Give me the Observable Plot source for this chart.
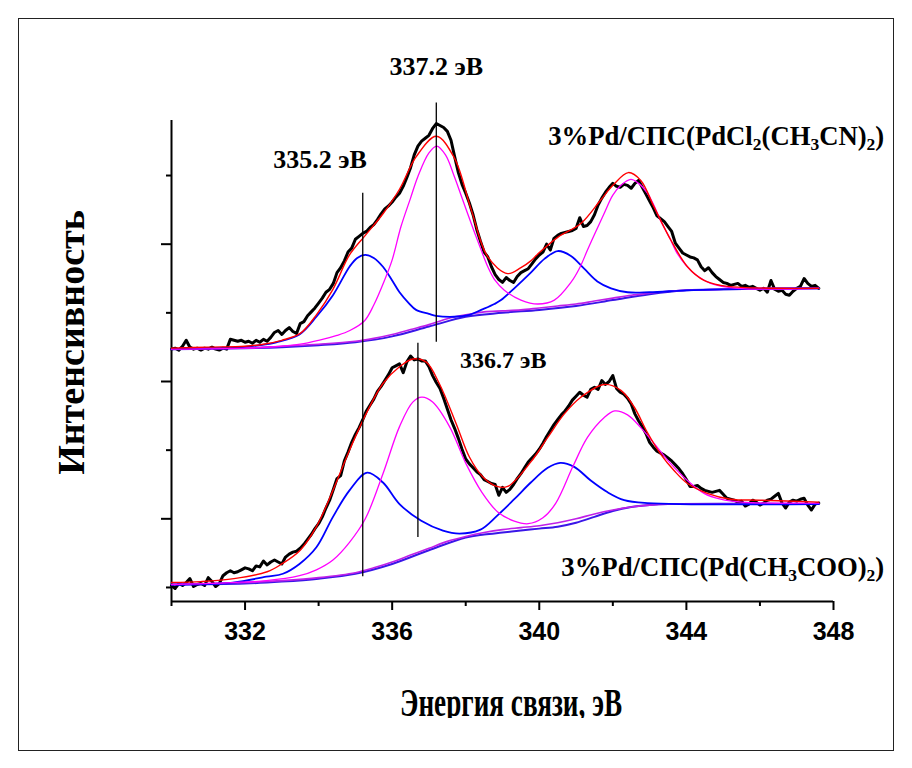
<!DOCTYPE html>
<html>
<head>
<meta charset="utf-8">
<script src="https://cdn.jsdelivr.net/npm/d3@7"></script>
<script src="https://cdn.jsdelivr.net/npm/@observablehq/plot@0.6"></script>
<style>
  html, body { margin: 0; padding: 0; background: #fff; }
  #page { position: relative; width: 912px; height: 768px; overflow: hidden; background: #fff; }
  #border { position: absolute; left: 18px; top: 18px; width: 876px; height: 733px;
            border: 1.5px solid #222; box-sizing: border-box; pointer-events: none; }
  #chart { position: absolute; left: 0; top: 0; }
  #xtitle { position: absolute; left: 0; top: 680px; width: 912px; height: 38px; overflow: hidden; }
  #xtitle span { position: absolute; left: 511px; top: 2.5px; white-space: nowrap;
                 font: bold 40px/40px "Liberation Serif", "Times New Roman", serif; color: #000;
                 transform-origin: center; transform: translateX(-50%) scaleX(0.68); }
</style>
</head>
<body>
<div id="page">
  <div id="chart"></div>
  <div id="xtitle"><span id="xtitle-text"></span></div>
  <div id="border"></div>
</div>
<script>
// Pd 3d XPS spectra of two 3%Pd/СПС catalysts with their peak decomposition.

// Measured counts on a uniform 0.1 eV energy grid starting at 330.0 eV.
const energyStart = 330.0;
const energyStep = 0.1;

// 3%Pd/СПС(PdCl2(CH3CN)2)
const topCounts = [
  243,244,242,246,252,245,243,244,242,244,
  243,245,243,242,244,243,253,252,251,252,
  250,251,249,252,250,253,251,255,260,262,
  258,262,265,261,259,269,271,277,281,285,
  290,295,301,304,310,321,326,333,342,346,
  355,358,361,363,367,370,375,381,386,389,
  393,398,402,409,418,428,441,450,455,458,
  461,468,473,471,469,465,456,439,423,411,
  402,392,380,365,353,342,337,327,319,314,
  311,316,313,311,317,321,323,325,330,335,
  339,342,350,344,356,359,361,362,363,364,
  366,377,368,369,373,380,390,397,403,408,
  412,409,408,411,410,407,412,415,408,401,
  394,387,379,376,373,368,363,351,346,341,
  339,337,336,334,327,323,326,321,317,314,
  311,310,308,309,310,307,308,306,307,305,
  303,305,301,313,304,302,303,299,298,302,
  305,307,315,310,307,308,305
];

// 3%Pd/СПС(Pd(CH3COO)2)
const bottomCounts = [
  2,-1,4,2,5,9,1,3,4,2,
  10,6,1,4,12,15,17,15,16,18,
  20,19,17,22,21,27,23,26,28,26,
  24,31,34,36,37,40,44,49,54,60,
  65,72,81,89,100,111,114,129,138,148,
  156,163,171,180,186,192,200,205,211,217,
  224,226,228,219,230,236,232,233,231,231,
  225,216,209,203,193,182,171,162,152,141,
  131,126,122,118,115,110,108,106,105,94,
  102,97,100,105,111,116,122,128,132,136,
  141,147,154,160,166,171,176,180,185,191,
  195,199,196,194,202,204,202,211,207,210,
  216,203,199,197,193,187,177,170,164,157,
  148,143,139,137,135,132,129,125,121,116,
  110,103,103,104,101,99,98,97,98,99,
  95,91,90,89,87,88,83,85,89,87,
  84,86,89,90,93,96,86,81,87,89,
  88,90,91,84,79,85,86
];

// Fitted curves, [binding energy (eV), intensity]
const fitTop = [[330,244],[331,245],[332,246],[332.5,248],[333,252],[333.5,259],[333.94,278],[334.39,304],[334.84,339],[335.27,359],[335.75,381],[336.2,406],[336.65,439],[337.2,460],[337.69,438],[338.15,385],[338.6,337],[339.14,320],[339.5,326],[339.77,333],[339.96,340],[340.5,357],[341.13,371],[341.67,395],[342,410],[342.42,423],[342.76,415],[343.12,388],[343.58,354],[344.03,327],[344.48,313],[344.93,308],[345.5,306],[346.5,305],[347.6,305]];
const pd0Top = [[330,243],[331,244],[331.6,244],[332.4,247],[332.85,250],[333.48,258],[333.94,276],[334.39,298],[334.84,327],[335.05,336],[335.27,339],[335.5,336],[335.75,327],[336,313],[336.2,301],[336.45,290],[336.65,283],[337,279],[337.19,277],[337.69,276],[338.1,278],[338.42,283],[338.78,289],[338.96,293],[339.32,305],[339.77,321],[340.14,335],[340.5,343],[340.86,338],[341.22,325],[341.58,312],[341.95,305],[342.4,301],[343,301],[344,303],[345,304],[347.6,305]];
const pd2Top = [[330,243],[332,244],[333,246],[333.5,248],[334,252],[334.5,257],[334.85,262],[335.25,272],[335.5,288],[335.79,313],[336,334],[336.24,368],[336.5,397],[336.7,419],[337,443],[337.21,450],[337.45,441],[337.69,419],[337.9,397],[338.15,371],[338.4,346],[338.6,327],[338.8,313],[339.05,303],[339.5,293],[339.96,289],[340.41,293],[340.86,311],[341.1,326],[341.31,344],[341.55,364],[341.76,381],[342,400],[342.22,410],[342.49,416],[342.7,412],[342.94,402],[343.1,391],[343.3,374],[343.55,356],[343.76,340],[344,328],[344.21,320],[344.66,310],[345.38,305],[347.6,305]];
const bgTopPd0 = [[330,243],[332,244],[333,245],[334,247],[335,250],[336,256],[337,266],[338,276],[339,280],[340,283],[341,287],[342,293],[343,299],[344,303],[345,304],[347.6,305]];
const bgTopPd2 = [[330,243],[331,244],[332,244],[333,246],[334,248],[335,251],[335.5,254],[336,258],[336.5,263],[337,268],[337.5,274],[338,278],[338.5,281],[339,282],[339.5,283],[340,285],[340.5,287],[341,289],[341.5,292],[342,295],[342.5,298],[343,300],[343.5,302],[344,303],[345,304],[346,305],[347.6,305]];

const fitBottom = [[330,5],[330.8,6],[331.7,9],[332.6,16],[333,24],[333.5,38],[333.94,62],[334.39,99],[334.84,140],[335.29,177],[335.75,208],[336.2,225],[336.56,233],[336.92,230],[337.28,208],[337.74,167],[338.1,133],[338.46,113],[338.85,103],[339.14,103],[339.77,128],[340.23,153],[340.68,177],[341.13,194],[341.77,207],[342.22,201],[342.58,184],[342.94,158],[343.3,136],[343.67,119],[344.03,106],[344.57,96],[345.2,90],[346,89],[347.6,87]];
const pd0Bottom = [[330,3],[331.67,5],[332.58,11],[333.03,14],[333.48,24],[333.94,41],[334.39,72],[334.84,99],[335.32,117],[335.75,107],[336.2,85],[336.79,68],[337.38,58],[337.83,55],[338.4,59],[338.85,73],[339.32,90],[339.77,107],[340.23,122],[340.57,127],[340.95,123],[341.4,109],[341.86,97],[342.31,89],[342.94,86],[347.6,85]];
const pd2Bottom = [[330,3],[332.58,7],[333.48,12],[333.94,18],[334.39,28],[334.84,46],[335.27,70],[335.75,116],[336.2,164],[336.56,189],[336.81,194],[337.1,189],[337.56,164],[338.01,126],[338.44,97],[338.87,77],[339.3,68],[339.7,65],[340.1,71],[340.45,86],[340.91,123],[341.31,153],[341.76,173],[342.05,180],[342.4,176],[342.76,163],[343.12,147],[343.58,126],[344.03,109],[344.48,96],[344.93,90],[345.5,87],[347.6,86]];
const bgBottomPd0 = [[330,3],[332,4],[333,6],[334,9],[335,14],[336,24],[337,38],[338,51],[338.5,54],[339,56],[339.5,58],[340,60],[340.5,62],[341,66],[341.5,72],[342,78],[342.5,82],[343,84],[343.5,85],[347.6,85]];
const bgBottomPd2 = [[330,3],[331,4],[332,5],[333,7],[334,10],[335,15],[335.5,20],[336,26],[336.5,33],[337,40],[337.5,47],[338,52],[338.5,56],[339,59],[339.5,61],[340,63],[340.5,66],[341,70],[341.5,75],[342,79],[342.5,82],[343,84],[343.5,85],[344.5,85],[347.6,85]];

// Peak positions marked on the spectra
const peakEnergies = [335.2, 337.2, 336.7];
const peakLabels = ["335.2 эВ", "337.2 эВ", "336.7 эВ"];
const sampleLabels = ["3%Pd/СПС(PdCl₂(CH₃CN)₂)", "3%Pd/СПС(Pd(CH₃COO)₂)"];

// Axis ticks
const xMajorTicks = [332, 336, 340, 344, 348];
const xMinorTicks = [330, 334, 338, 342, 346];
const yMajorTicks = [70, 210, 350];
const yMinorTicks = [0, 140, 280, 420];

const xTitle = "Энергия связи, эВ";
const yTitle = "Интенсивность";

const toSeries = (counts) => counts.map((c, i) => ({energy: +(energyStart + i * energyStep).toFixed(1), counts: c}));
const topSpectrum = toSeries(topCounts);
const bottomSpectrum = toSeries(bottomCounts);

const serif = "'Liberation Serif', 'Times New Roman', Times, serif";
const narrow = "'Liberation Sans Narrow', 'Arial Narrow', 'Liberation Sans', Arial, sans-serif";
const yDomain = [-14.3, 476.1];
const ex = d => d[0], ey = d => d[1];

const smooth = (data, stroke, strokeWidth) =>
  Plot.line(data, {x: ex, y: ey, stroke, strokeWidth, curve: "catmull-rom"});

const chart = Plot.plot({
  width: 912,
  height: 768,
  marginLeft: 171,
  marginRight: 79,
  marginTop: 120,
  marginBottom: 167,
  style: {background: "transparent", overflow: "visible", color: "#000"},
  x: {domain: [330, 348], label: null},
  y: {domain: yDomain, label: null},
  marks: [
    // axes
    Plot.axisX({ticks: xMinorTicks, tickSize: 5, strokeWidth: 2, fill: "none", label: null}),
    Plot.axisX({ticks: xMajorTicks, tickSize: 9, tickPadding: 12, strokeWidth: 2, label: null,
                fontSize: 25, fontWeight: "bold", fontFamily: narrow, tickFormat: d => String(d)}),
    Plot.axisY({ticks: yMinorTicks, tickSize: 5, strokeWidth: 2, fill: "none", label: null}),
    Plot.axisY({ticks: yMajorTicks, tickSize: 10, strokeWidth: 2, fill: "none", label: null}),
    Plot.ruleY([yDomain[0]], {strokeWidth: 2}),
    Plot.ruleX([330], {strokeWidth: 2}),

    // measured spectra
    Plot.line(topSpectrum, {x: "energy", y: "counts", stroke: "#000", strokeWidth: 3, strokeLinejoin: "round"}),
    Plot.line(bottomSpectrum, {x: "energy", y: "counts", stroke: "#000", strokeWidth: 3, strokeLinejoin: "round"}),

    // backgrounds
    smooth(bgTopPd0, "#3a16e8", 2),
    smooth(bgTopPd2, "#c020e8", 1.6),
    smooth(bgBottomPd0, "#3a16e8", 2),
    smooth(bgBottomPd2, "#c020e8", 1.6),

    // components: Pd0 (blue) and Pd2+ (magenta)
    smooth(pd0Top, "#0000ff", 1.8),
    smooth(pd2Top, "#ff00ff", 1.3),
    smooth(pd0Bottom, "#0000ff", 1.8),
    smooth(pd2Bottom, "#ff00ff", 1.3),

    // envelopes
    smooth(fitTop, "#ff0000", 1.4),
    smooth(fitBottom, "#ff0000", 1.4),

    // peak markers
    Plot.ruleX([peakEnergies[0]], {y1: 11, y2: 402, stroke: "#000", strokeWidth: 1.3}),
    Plot.ruleX([peakEnergies[1]], {y1: 250, y2: 494, stroke: "#000", strokeWidth: 1.3}),
    Plot.ruleX([peakEnergies[2]], {y1: 51, y2: 249, stroke: "#000", strokeWidth: 1.3}),

    // peak labels
    Plot.text([peakLabels[0]], {x: 334.04, y: 428, text: d => d, textAnchor: "middle", lineAnchor: "bottom",
      fontFamily: serif, fontWeight: "bold", fontSize: 26, fill: "#000"}),
    Plot.text([peakLabels[1]], {x: peakEnergies[1], y: 522, text: d => d, textAnchor: "middle", lineAnchor: "bottom",
      fontFamily: serif, fontWeight: "bold", fontSize: 26, fill: "#000"}),
    Plot.text([peakLabels[2]], {x: 339.02, y: 224, text: d => d, textAnchor: "middle", lineAnchor: "bottom",
      fontFamily: serif, fontWeight: "bold", fontSize: 24, fill: "#000"}),

    // sample names
    Plot.text([sampleLabels[0]], {x: 349.38, y: 451, text: d => d, textAnchor: "end", lineAnchor: "bottom",
      fontFamily: serif, fontWeight: "bold", fontSize: 26.7, fill: "#000"}),
    Plot.text([sampleLabels[1]], {x: 349.38, y: 12, text: d => d, textAnchor: "end", lineAnchor: "bottom",
      fontFamily: serif, fontWeight: "bold", fontSize: 26.7, fill: "#000"}),

    // y axis title
    Plot.text([yTitle], {frameAnchor: "left", dx: -88, dy: -18.5, rotate: -90, text: d => d,
      textAnchor: "middle", lineAnchor: "bottom", fontFamily: serif, fontWeight: "bold", fontSize: 38, fill: "#000"})
  ]
});

// Chemical formula digits are set as subscripts.
const SVG_NS = "http://www.w3.org/2000/svg";
const subDigits = {"₂": "2", "₃": "3"};
chart.querySelectorAll("text").forEach(t => {
  const s = t.textContent;
  if (!/[₂₃]/.test(s) || t.children.length) return;
  t.textContent = "";
  let lowered = false;
  for (const part of s.match(/[₂₃]+|[^₂₃]+/g)) {
    const ts = document.createElementNS(SVG_NS, "tspan");
    if (/[₂₃]/.test(part)) {
      ts.textContent = part.replace(/[₂₃]/g, c => subDigits[c]);
      ts.setAttribute("font-size", "17.5");
      if (!lowered) ts.setAttribute("dy", "5");
      lowered = true;
    } else {
      ts.textContent = part;
      if (lowered) ts.setAttribute("dy", "-5");
      lowered = false;
    }
    t.appendChild(ts);
  }
});

document.getElementById("chart").appendChild(chart);
document.getElementById("xtitle-text").textContent = xTitle;
</script>
</body>
</html>
